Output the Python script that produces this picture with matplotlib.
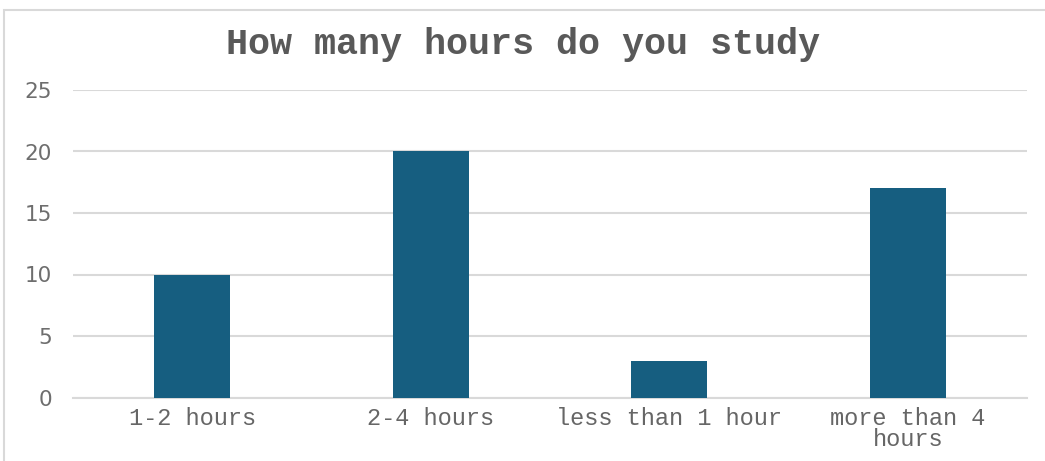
import matplotlib.pyplot as plt
import matplotlib.patches as mpatches
import numpy as np

# survey answers: hours of study per day
categories = ['1-2 hours', '2-4 hours', 'less than 1 hour', 'more than 4\nhours']
counts = [10, 20, 3, 17]
yticks = [0, 5, 10, 15, 20, 25]

W, H = 1045, 461
fig = plt.figure(figsize=(W / 100, H / 100), dpi=100)
fig.patch.set_facecolor('white')

# chart border (runs off the right and bottom edges)
fig.patches.append(mpatches.Rectangle((4 / W, -0.05), 1.1, 1 - 10 / H + 0.05,
                                      transform=fig.transFigure, fill=False,
                                      edgecolor='#d9d9d9', linewidth=1.5))

ax = fig.add_axes([73 / W, 1 - 397.5 / H, (1027 - 73) / W, (397.5 - 90) / H])
x = np.arange(len(categories))
ax.bar(x, counts, width=0.32, color='#165e80', zorder=3)

ax.set_xlim(-0.5, len(categories) - 0.5)
ax.set_ylim(0, 25)
ax.set_yticks(yticks)
ax.set_yticklabels([str(v) for v in yticks], fontsize=15.5, color='#6e6e6e',
                   family='DejaVu Sans')
ax.set_xticks(x)
ax.set_xticklabels(categories, fontsize=17, color='#666666',
                   family='Liberation Mono', linespacing=0.9)
ax.tick_params(axis='both', length=0)
ax.tick_params(axis='y', pad=15)
ax.tick_params(axis='x', pad=7)

ax.grid(axis='y', color='#d9d9d9', linewidth=1.5, zorder=0)
for s in ['top', 'right', 'left']:
    ax.spines[s].set_visible(False)
ax.spines['bottom'].set_color('#d9d9d9')
ax.spines['bottom'].set_linewidth(1.5)

fig.text(0.5, 1 - 44 / H, 'How many hours do you study', ha='center', va='center',
         fontsize=26.5, fontweight='bold', color='#595959', family='Liberation Mono')

fig.savefig('out.png', dpi=100, facecolor='white')
